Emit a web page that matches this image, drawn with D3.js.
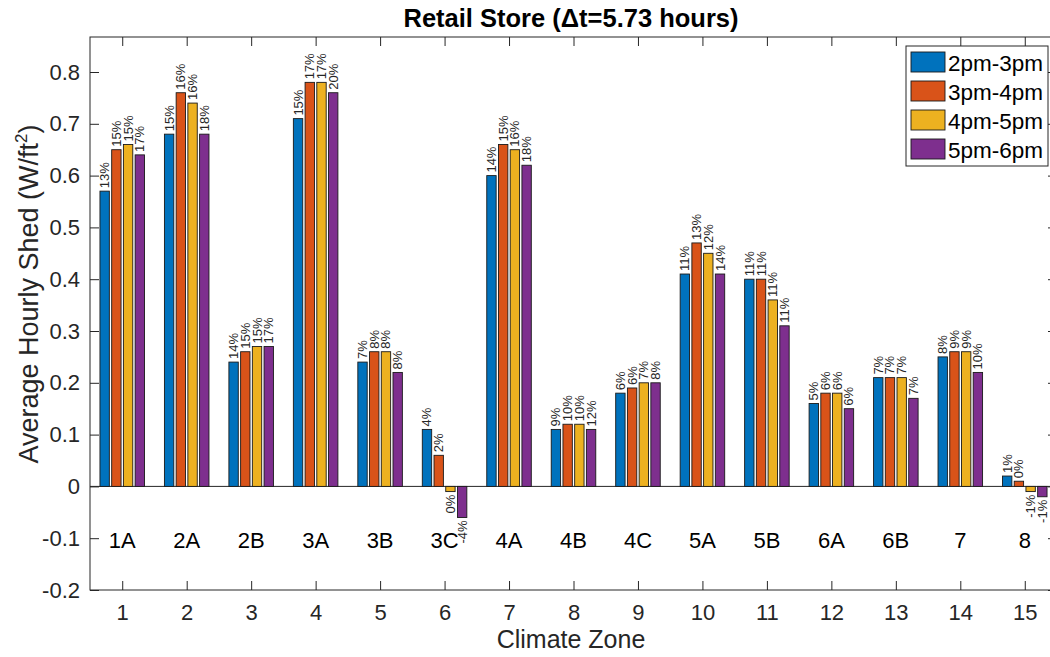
<!DOCTYPE html>
<html>
<head>
<meta charset="utf-8">
<script src="https://cdn.jsdelivr.net/npm/d3@7"></script>
<style>
  body { margin: 0; background: #fff; }
  svg { display: block; font-family: "Liberation Sans", Arial, sans-serif; }
</style>
</head>
<body>
<svg id="chart" width="1050" height="657"></svg>
<script>
// ---------------- data ----------------
const zones = [1, 2, 3, 4, 5, 6, 7, 8, 9, 10, 11, 12, 13, 14, 15];
const zoneNames = ["1A", "2A", "2B", "3A", "3B", "3C", "4A", "4B", "4C", "5A", "5B", "6A", "6B", "7", "8"];
const seriesNames = ["2pm-3pm", "3pm-4pm", "4pm-5pm", "5pm-6pm"];
const shed_2pm = [0.57, 0.68, 0.24, 0.71, 0.24, 0.11, 0.60, 0.11, 0.18, 0.41, 0.40, 0.16, 0.21, 0.25, 0.02];
const shed_3pm = [0.65, 0.76, 0.26, 0.78, 0.26, 0.06, 0.66, 0.12, 0.19, 0.47, 0.40, 0.18, 0.21, 0.26, 0.01];
const shed_4pm = [0.66, 0.74, 0.27, 0.78, 0.26, -0.01, 0.65, 0.12, 0.20, 0.45, 0.36, 0.18, 0.21, 0.26, -0.01];
const shed_5pm = [0.64, 0.68, 0.27, 0.76, 0.22, -0.06, 0.62, 0.11, 0.20, 0.41, 0.31, 0.15, 0.17, 0.22, -0.02];
const pct_2pm = [13, 15, 14, 15, 7, 4, 14, 9, 6, 11, 11, 5, 7, 8, 1];
const pct_3pm = [15, 16, 15, 17, 8, 2, 15, 10, 6, 13, 11, 6, 7, 9, 0];
const pct_4pm = [15, 16, 15, 17, 8, 0, 16, 10, 7, 12, 11, 6, 7, 9, -1];
const pct_5pm = [17, 18, 17, 20, 8, -4, 18, 12, 8, 14, 11, 6, 7, 10, -1];
const yTicks = [-0.2, -0.1, 0, 0.1, 0.2, 0.3, 0.4, 0.5, 0.6, 0.7, 0.8];
const colors = ["#0072BD", "#D95319", "#EDB120", "#7E2F8E"];

const values = [shed_2pm, shed_3pm, shed_4pm, shed_5pm];
const pcts = [pct_2pm, pct_3pm, pct_4pm, pct_5pm];

// ---------------- layout ----------------
const svg = d3.select("#chart");
const L = 90, R = 1057, T = 37, B = 590;
const axisColor = "#262626";

const x = d3.scaleLinear().domain([0.5, 15.5]).range([L, R]);
const y = d3.scaleLinear().domain([-0.2, 0.8]).range([B, 72]);
const yTop = y.invert(T);
y.domain([-0.2, yTop]).range([B, T]);

const step = 0.1818, bw = 0.1455;

// zero baseline
svg.append("line")
  .attr("x1", L).attr("x2", R).attr("y1", y(0)).attr("y2", y(0))
  .attr("stroke", axisColor).attr("stroke-width", 1);

// bars
seriesNames.forEach((name, si) => {
  const g = svg.append("g");
  g.selectAll("rect").data(zones).enter().append("rect")
    .attr("x", (d, i) => x(d + (si - 1.5) * step - bw / 2))
    .attr("width", x(bw) - x(0))
    .attr("y", (d, i) => y(Math.max(0, values[si][i])))
    .attr("height", (d, i) => Math.abs(y(values[si][i]) - y(0)))
    .attr("fill", colors[si])
    .attr("stroke", "#1a1a1a").attr("stroke-width", 0.9);

  g.selectAll("text").data(zones).enter().append("text")
    .attr("transform", (d, i) => {
      const v = values[si][i];
      const xc = x(d + (si - 1.5) * step);
      const yy = v >= 0 ? y(v) - 3 : y(v) + 3;
      return `translate(${xc},${yy}) rotate(-90)`;
    })
    .attr("text-anchor", (d, i) => values[si][i] >= 0 ? "start" : "end")
    .attr("dominant-baseline", "central")
    .attr("font-size", 13)
    .attr("fill", axisColor)
    .text((d, i) => pcts[si][i] + "%");
});

// zone labels
svg.append("g").selectAll("text").data(zones).enter().append("text")
  .attr("x", d => x(d)).attr("y", y(-0.1) + 2)
  .attr("text-anchor", "middle").attr("dominant-baseline", "central")
  .attr("font-size", 22).attr("fill", "#000")
  .text((d, i) => zoneNames[i]);

// axes box
svg.append("rect").attr("x", L).attr("y", T).attr("width", R - L).attr("height", B - T)
  .attr("fill", "none").attr("stroke", axisColor).attr("stroke-width", 1);

// bottom axis
const xAxis = d3.axisBottom(x).tickValues(zones).tickSize(-9).tickPadding(14).tickFormat(d3.format("d"));
const gx = svg.append("g").attr("transform", `translate(0,${B})`).call(xAxis);
gx.select(".domain").remove();
gx.selectAll("line").attr("stroke", axisColor);
gx.selectAll("text").attr("font-size", 22).attr("fill", axisColor).attr("font-family", "Liberation Sans, Arial, sans-serif");

// top ticks
const xTop = d3.axisTop(x).tickValues(zones).tickSize(-9).tickFormat("");
const gxt = svg.append("g").attr("transform", `translate(0,${T})`).call(xTop);
gxt.select(".domain").remove();
gxt.selectAll("line").attr("stroke", axisColor);

// left axis
const yAxis = d3.axisLeft(y).tickValues(yTicks).tickSize(-9).tickPadding(10)
  .tickFormat(d => d === 0 ? "0" : d3.format(".1f")(d).replace("\u2212", "-"));
const gy = svg.append("g").attr("transform", `translate(${L},0)`).call(yAxis);
gy.select(".domain").remove();
gy.selectAll("line").attr("stroke", axisColor);
gy.selectAll("text").attr("font-size", 22).attr("fill", axisColor).attr("font-family", "Liberation Sans, Arial, sans-serif");

// right ticks
const yR = d3.axisRight(y).tickValues(yTicks).tickSize(-9).tickFormat("");
const gyr = svg.append("g").attr("transform", `translate(${R},0)`).call(yR);
gyr.select(".domain").remove();
gyr.selectAll("line").attr("stroke", axisColor);

// title
svg.append("text").attr("x", 571).attr("y", 27)
  .attr("text-anchor", "middle").attr("font-size", 25.5).attr("font-weight", "bold").attr("fill", "#000")
  .text("Retail Store (\u0394t=5.73 hours)");

// axis labels
svg.append("text").attr("x", 571).attr("y", 648)
  .attr("text-anchor", "middle").attr("font-size", 25).attr("fill", axisColor)
  .text("Climate Zone");

const yl = svg.append("text")
  .attr("transform", `translate(38,${294}) rotate(-90)`)
  .attr("text-anchor", "middle").attr("font-size", 27).attr("fill", axisColor);
yl.append("tspan").text("Average Hourly Shed (W/ft");
yl.append("tspan").attr("font-size", 17).attr("dy", -11).text("2");
yl.append("tspan").attr("dy", 11).text(")");

// legend
const lg = svg.append("g");
const lx = 906, ly = 46, lw = 142, lh = 120;
lg.append("rect").attr("x", lx).attr("y", ly).attr("width", lw).attr("height", lh)
  .attr("fill", "#fff").attr("stroke", axisColor).attr("stroke-width", 1);
seriesNames.forEach((name, i) => {
  const cy = ly + 16 + i * 29;
  lg.append("rect").attr("x", lx + 5).attr("y", cy - 10).attr("width", 34).attr("height", 20)
    .attr("fill", colors[i]).attr("stroke", "#1a1a1a").attr("stroke-width", 0.9);
  lg.append("text").attr("x", lx + 42).attr("y", cy + 1).attr("dominant-baseline", "central")
    .attr("font-size", 22.5).attr("fill", "#000").text(name);
});
</script>
</body>
</html>
